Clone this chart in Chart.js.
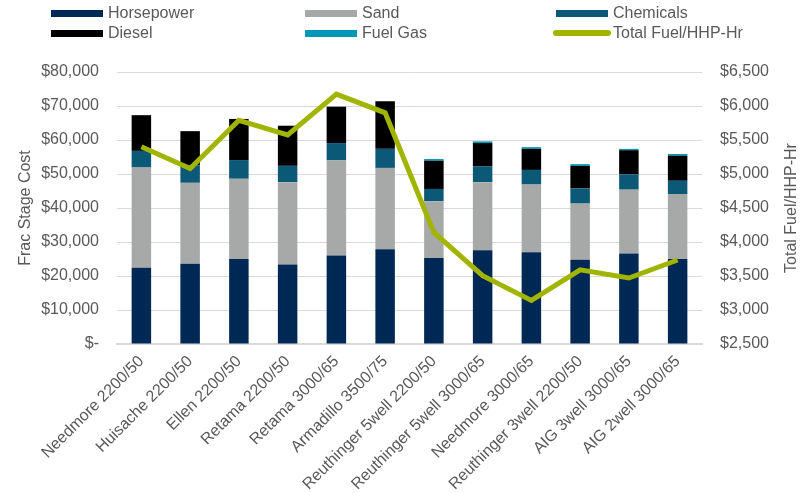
<!DOCTYPE html>
<html>
<head>
<meta charset="utf-8">
<script src="https://cdn.jsdelivr.net/npm/chart.js@4.4.1/dist/chart.umd.min.js"></script>
<style>
    html, body { margin: 0; padding: 0; background: #fff; }
    #wrap { position: relative; width: 808px; height: 493px; }
    #legend { position: absolute; left: 0; top: 0; width: 808px; height: 44px; font-family: "Liberation Sans", Arial, sans-serif; font-size: 16px; color: #595959; }
    .leg-item { position: absolute; height: 20px; line-height: 20px; white-space: nowrap; }
    .leg-box { position: absolute; left: 0; top: 7px; width: 52px; height: 7px; }
    .leg-line { position: absolute; left: -3px; top: 7px; width: 58px; height: 6px; border-radius: 3px; }
    .leg-text { position: absolute; left: 57px; top: 0; }
</style>
</head>
<body>
<div id="wrap">
    <canvas id="chart" width="808" height="493"></canvas>
    <div id="legend"></div>
</div>
<script>
var categories = [
    'Needmore 2200/50', 'Huisache 2200/50', 'Ellen 2200/50', 'Retama 2200/50',
    'Retama 3000/65', 'Armadillo 3500/75', 'Reuthinger 5well 2200/50', 'Reuthinger 5well 3000/65',
    'Needmore 3000/65', 'Reuthinger 3well 2200/50', 'AIG 3well 3000/65', 'AIG 2well 3000/65'
];
var horsepower = [22400, 23600, 25000, 23400, 26000, 27900, 25300, 27600, 27000, 24800, 26600, 25000];
var sand = [29500, 23800, 23600, 24200, 28000, 23900, 16700, 20000, 19900, 16500, 18800, 19100];
var chemicals = [4900, 5200, 5500, 4800, 5100, 5600, 3600, 4700, 4300, 4500, 4500, 3900];
var diesel = [10500, 10000, 12100, 11800, 10700, 14000, 8300, 6800, 6200, 6600, 7100, 7400];
var fuelGas = [0, 0, 0, 0, 0, 0, 500, 500, 500, 500, 400, 500];
var fuelPerHhpHr = [5400, 5080, 5790, 5575, 6175, 5900, 4140, 3505, 3140, 3590, 3470, 3735];

(function () {
    'use strict';

    var FONT = '"Liberation Sans", Arial, sans-serif';
    var TEXT = '#595959';
    var GRID = '#d9d9d9';
    var RIGHT_TITLE = 'Total Fuel/HHP-Hr';

    function money(v) {
        if (v === 0) return '$-';
        return '$' + v.toLocaleString('en-US');
    }

    function bar(label, data, color) {
        return {
            type: 'bar', label: label, data: data, backgroundColor: color,
            borderWidth: 0, stack: 'cost', yAxisID: 'y', order: 1,
            barPercentage: 0.4, categoryPercentage: 1
        };
    }

    var datasets = [
        bar('Horsepower', horsepower, '#002855'),
        bar('Sand', sand, '#a7a9a9'),
        bar('Chemicals', chemicals, '#0b5877'),
        bar('Diesel', diesel, '#000000'),
        bar('Fuel Gas', fuelGas, '#0097b7'),
        {
            type: 'line', label: 'Total Fuel/HHP-Hr', data: fuelPerHhpHr,
            borderColor: '#a0b400', backgroundColor: '#a0b400', borderWidth: 5,
            pointRadius: 0, tension: 0, yAxisID: 'y1', order: 0
        }
    ];

    // right axis title reads bottom-to-top like the left one
    var rightTitle = {
        id: 'rightTitle',
        afterDraw: function (chart) {
            var s = chart.scales.y1;
            var ctx = chart.ctx;
            ctx.save();
            ctx.translate(s.right - 16, (chart.chartArea.top + chart.chartArea.bottom) / 2);
            ctx.rotate(-Math.PI / 2);
            ctx.font = '16px ' + FONT;
            ctx.fillStyle = TEXT;
            ctx.textAlign = 'center';
            ctx.textBaseline = 'middle';
            ctx.fillText(RIGHT_TITLE, 0, 0);
            ctx.restore();
        }
    };

    Chart.defaults.font.family = FONT;
    Chart.defaults.font.size = 16;
    Chart.defaults.color = TEXT;

    new Chart(document.getElementById('chart'), {
        data: { labels: categories, datasets: datasets },
        plugins: [rightTitle],
        options: {
            responsive: false,
            animation: false,
            layout: { padding: { top: 72, left: 0, right: 0, bottom: 0 } },
            plugins: { legend: { display: false }, tooltip: { enabled: false } },
            scales: {
                x: {
                    stacked: true,
                    grid: { display: false, drawTicks: false },
                    border: { display: true, color: GRID, width: 2 },
                    ticks: { autoSkip: false, maxRotation: 45, minRotation: 45, padding: 8, color: TEXT },
                    afterFit: function (s) { s.height = 149; }
                },
                y: {
                    position: 'left', stacked: true, min: 0, max: 80000,
                    grid: { color: GRID, lineWidth: 1, drawTicks: false },
                    border: { display: false },
                    ticks: { stepSize: 10000, padding: 18, color: TEXT, callback: money },
                    title: { display: true, text: 'Frac Stage Cost', color: TEXT, padding: { top: 16, bottom: 0 } },
                    afterFit: function (s) { s.width = 117; }
                },
                y1: {
                    position: 'right', min: 2500, max: 6500,
                    grid: { display: false, drawTicks: false },
                    border: { display: false },
                    ticks: { stepSize: 500, padding: 18, color: TEXT, callback: money },
                    title: { display: false },
                    afterFit: function (s) { s.width = 106; }
                }
            }
        }
    });

    // legend laid out in three columns, two rows, built from the datasets
    var cols = [51, 305, 556];
    var rows = [3, 23];
    var order = ['Horsepower', 'Sand', 'Chemicals', 'Diesel', 'Fuel Gas', 'Total Fuel/HHP-Hr'];
    var legendEl = document.getElementById('legend');
    order.forEach(function (name, i) {
        var ds = datasets.filter(function (d) { return d.label === name; })[0];
        var item = document.createElement('div');
        item.className = 'leg-item';
        item.style.left = cols[i % 3] + 'px';
        item.style.top = rows[Math.floor(i / 3)] + 'px';
        var sw = document.createElement('span');
        sw.className = ds.type === 'line' ? 'leg-line' : 'leg-box';
        sw.style.background = ds.type === 'line' ? ds.borderColor : ds.backgroundColor;
        var tx = document.createElement('span');
        tx.className = 'leg-text';
        tx.textContent = name;
        item.appendChild(sw);
        item.appendChild(tx);
        legendEl.appendChild(item);
    });
})();
</script>
</body>
</html>
